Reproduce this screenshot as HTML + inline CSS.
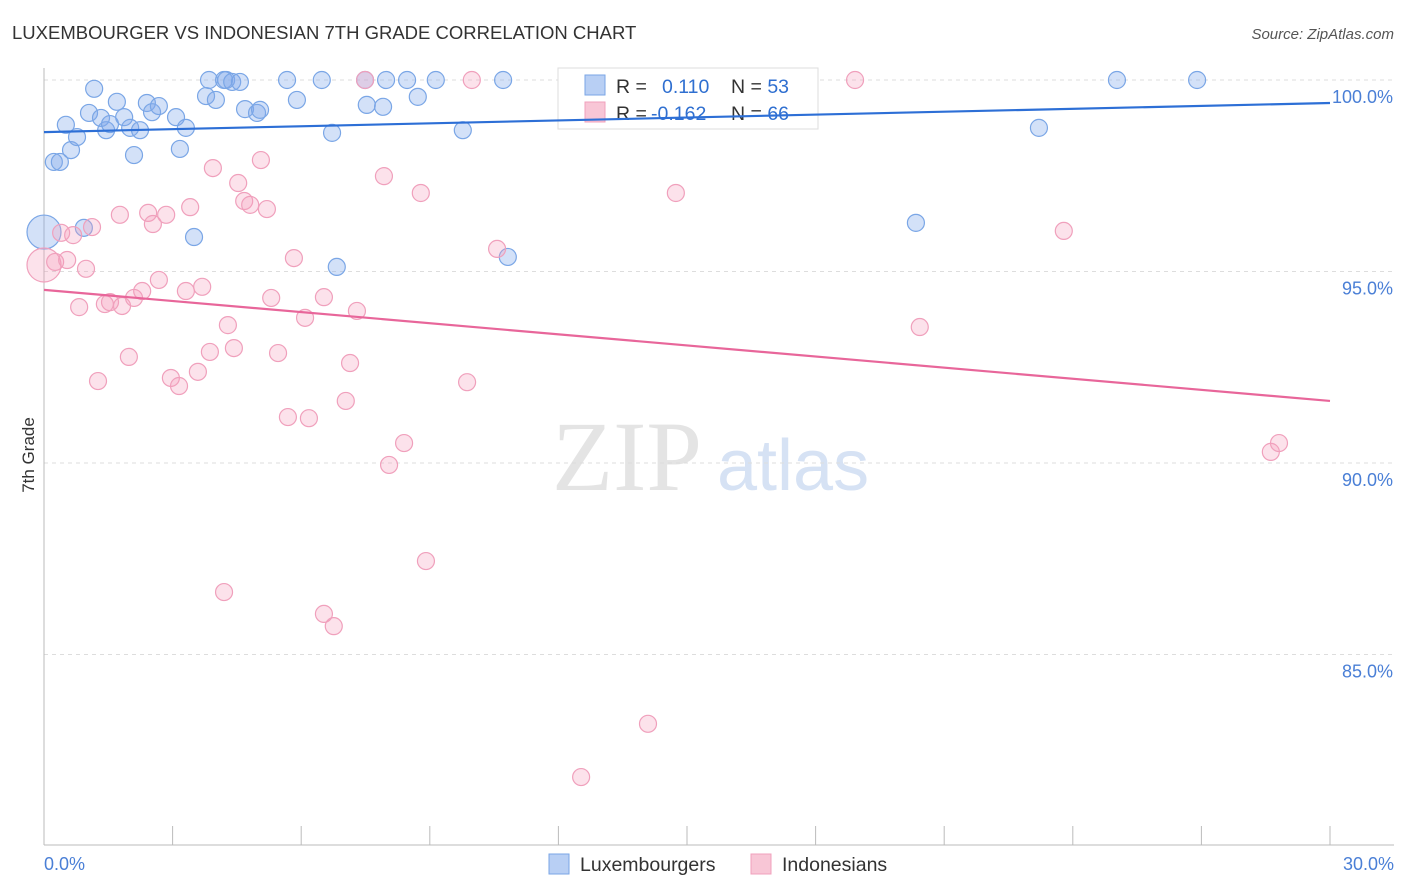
<!DOCTYPE html>
<html><head><meta charset="utf-8"><style>
body{margin:0;background:#fff;font-family:"Liberation Sans",sans-serif;}
svg{display:block}
</style></head><body>
<svg id="chart" width="1406" height="892" xmlns="http://www.w3.org/2000/svg">
<text x="12" y="39" font-size="18.5" fill="#333">LUXEMBOURGER VS INDONESIAN 7TH GRADE CORRELATION CHART</text>
<text x="1394" y="39" font-size="15" fill="#555" font-style="italic" text-anchor="end">Source: ZipAtlas.com</text>
<g>
<text x="552" y="490" font-size="100" font-family="Liberation Serif,serif" fill="#e4e4e4">ZIP</text>
<text x="717" y="490" font-size="72" fill="#d6e2f4">atlas</text>
</g>
<g id="grid"></g>
<g id="axes"></g>
<text x="34" y="455" font-size="17" fill="#333" text-anchor="middle" transform="rotate(-90 34 455)">7th Grade</text>
<g>
<rect x="558" y="68" width="260" height="61" fill="#fff" stroke="#ddd"/>
<rect x="585" y="75" width="20" height="20" fill="#b8cff4" stroke="#7aa6e6"/>
<rect x="585" y="102" width="20" height="20" fill="#f8c6d6" stroke="#f0a0bc"/>
<text x="616" y="93" font-size="19.5" fill="#333">R = <tspan x="662" fill="#2f6fd0">0.110</tspan><tspan x="731" fill="#333">N = </tspan><tspan fill="#2f6fd0">53</tspan></text>
<text x="616" y="120" font-size="19.5" fill="#333">R = <tspan x="651" fill="#2f6fd0">-0.162</tspan><tspan x="731" fill="#333">N = </tspan><tspan fill="#2f6fd0">66</tspan></text>
</g>
<g id="marks"></g>
<g>
<rect x="549" y="854" width="20" height="20" fill="#b8cff4" stroke="#7aa6e6"/>
<text x="580" y="871" font-size="19.5" fill="#333">Luxembourgers</text>
<rect x="751" y="854" width="20" height="20" fill="#f8c6d6" stroke="#f0a0bc"/>
<text x="782" y="871" font-size="19.5" fill="#333">Indonesians</text>
</g>
</svg>
<script>
const yTicks=[100,95,90,85];
const yTickLabels=["100.0%","95.0%","90.0%","85.0%"];
const xTickLabels=["0.0%","30.0%"];
const blueX=[0.23,0.37,0.51,0.63,0.77,0.93,1.05,1.17,1.33,1.45,1.54,1.70,1.87,2.01,2.10,2.24,2.40,2.52,2.68,3.08,3.17,3.31,3.50,3.78,3.85,4.01,4.20,4.25,4.39,4.57,4.69,4.97,5.04,5.67,5.90,6.48,6.72,6.83,7.49,7.53,7.91,7.98,8.47,8.72,9.14,9.77,10.71,10.82,20.34,23.21,25.03,26.90,0];
const blueY=[97.86,97.86,98.83,98.17,98.51,96.14,99.14,99.77,99.01,98.69,98.85,99.43,99.03,98.75,98.04,98.69,99.40,99.16,99.32,99.03,98.20,98.75,95.90,99.58,100,99.48,100,100,99.95,99.95,99.24,99.14,99.22,100,99.48,100,98.62,95.12,100,99.35,99.30,100,100,99.56,100,98.69,100,95.38,96.27,98.75,100,100,96.03];
const pinkX=[0,0.26,0.40,0.54,0.68,0.82,0.98,1.12,1.26,1.42,1.54,1.77,1.82,1.98,2.10,2.29,2.43,2.54,2.68,2.85,2.96,3.15,3.31,3.41,3.59,3.69,3.87,3.94,4.29,4.43,4.53,4.67,4.81,5.06,5.20,5.30,5.46,5.69,5.83,6.09,6.18,6.53,6.53,6.76,7.04,7.14,7.30,7.49,7.93,8.05,8.40,8.79,8.91,9.87,9.98,10.57,4.20,12.53,14.09,14.74,18.92,20.43,23.79,28.62,28.81];
const pinkY=[95.17,95.25,96.01,95.30,95.95,94.07,95.07,96.16,92.14,94.15,94.20,96.48,94.10,92.77,94.31,94.49,96.53,96.24,94.78,96.48,92.22,92.01,94.49,96.68,92.38,94.60,92.90,97.70,93.60,93.00,97.31,96.84,96.74,97.91,96.63,94.31,92.87,91.20,95.35,93.79,91.17,94.33,86.06,85.74,91.62,92.61,93.97,100,97.49,89.95,90.52,97.05,87.44,92.11,100,95.59,86.63,81.80,83.19,97.05,100,93.55,96.06,90.29,90.52];
const blueTrend=[98.64,99.40];
const pinkTrend=[94.52,91.62];
const NS="http://www.w3.org/2000/svg";
const X=v=>44+v/30*1286;
const Y=v=>80+(100-v)*38.3;
function mk(tag,attrs,parent){const e=document.createElementNS(NS,tag);for(const k in attrs)e.setAttribute(k,attrs[k]);parent.appendChild(e);return e;}
const grid=document.getElementById('grid'),axes=document.getElementById('axes'),marks=document.getElementById('marks');
yTicks.forEach((t,i)=>{
 const l=mk('line',{x1:44,x2:1394,y1:Y(t),y2:Y(t),stroke:'#ddd','stroke-dasharray':'4,4'},grid);
 
 
 const tx=mk('text',{x:1393,y:Y(t)+23,'font-size':18,fill:'#4a7fd6','text-anchor':'end'},axes);
 tx.textContent=yTickLabels[i];
 
 
});
let a=mk('line',{x1:44,x2:44,y1:68,y2:845,stroke:'#bbb'},axes);


a=mk('line',{x1:44,x2:1394,y1:845,y2:845,stroke:'#bbb'},axes);


for(let i=0;i<=10;i++){
 const t=mk('line',{x1:X(i*3),x2:X(i*3),y1:826,y2:845,stroke:'#bbb'},axes);
 
 
}
[[0,'start',44],[30,'end',1394]].forEach((d,i)=>{
 const t=mk('text',{x:d[2],y:870,'font-size':18,fill:'#4a7fd6','text-anchor':d[1]},axes);
 t.textContent=xTickLabels[i];
 
 
});
function pts(xs,ys,fill,stroke,name){
 xs.forEach((x,i)=>{
  const big=(i===xs.length-1&&name==='luxembourger-point')||(i===0&&name==='indonesian-point');
  const c=mk('circle',{cx:X(x),cy:Y(ys[i]),r:big?17:8.5,fill:fill,stroke:stroke,'stroke-width':1.2},marks);
  
  
 });
}
pts(blueX,blueY,'rgba(130,170,235,0.35)','#7aa6e6','luxembourger-point');
pts(pinkX,pinkY,'rgba(245,160,190,0.3)','#f0a0bc','indonesian-point');
let tl=mk('line',{x1:X(0),x2:X(30),y1:Y(blueTrend[0]),y2:Y(blueTrend[1]),stroke:'#2d6fd6','stroke-width':2.2},marks);


tl=mk('line',{x1:X(0),x2:X(30),y1:Y(pinkTrend[0]),y2:Y(pinkTrend[1]),stroke:'#e8669a','stroke-width':2.2},marks);


</script>
</body></html>
